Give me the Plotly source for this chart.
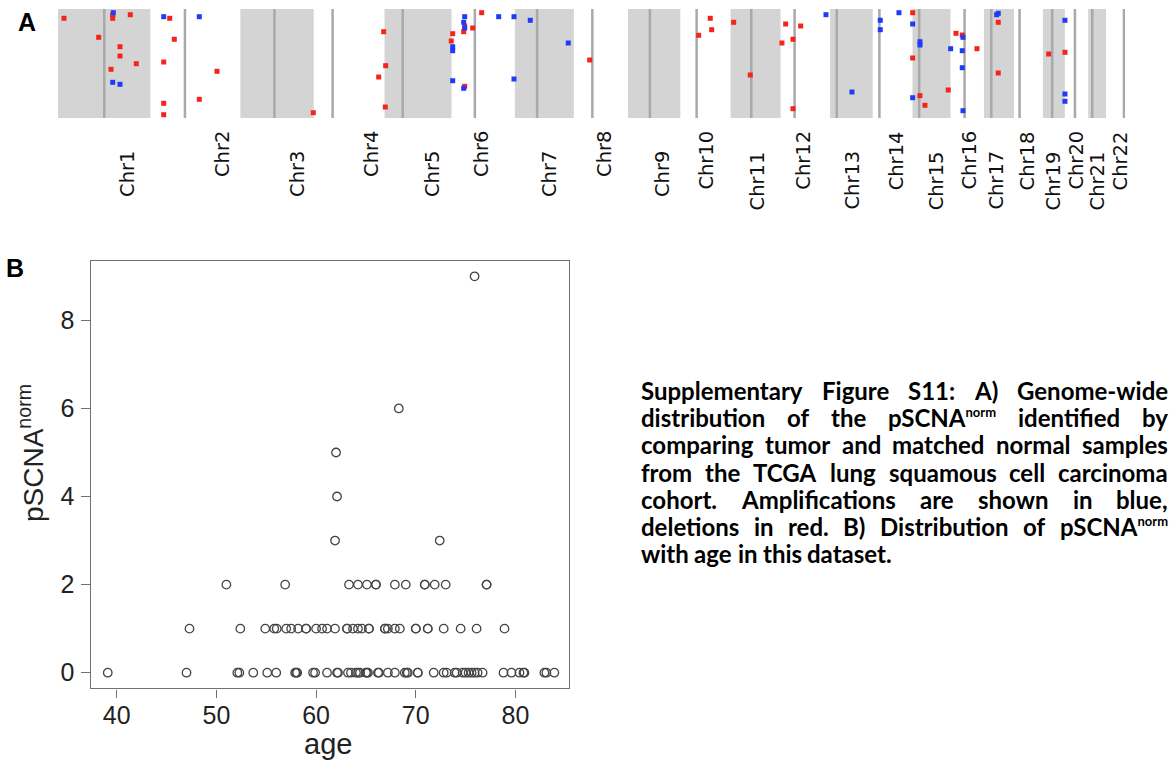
import plotly.graph_objects as go

W, H = 1172, 763

# ---------------- Panel A data ----------------
chrom_names = [f"Chr{i}" for i in range(1, 23)]
chrom_len_mb = [249.25, 243.20, 198.02, 191.15, 180.92, 171.12, 159.14, 146.36,
                141.21, 135.53, 135.01, 133.85, 115.17, 107.35, 102.53, 90.35,
                81.20, 78.08, 59.13, 63.03, 48.13, 51.30]
centromere_mb = [125.0, 93.5, 92.0, 51.0, 49.0, 63.0, 60.0, 50.0, 59.0, 44.0,
                 56.0, 38.0, 18.0, 18.0, 18.0, 38.0, 20.0, 15.0, 25.0, 27.3,
                 11.0, 48.5]

# deletions (red): genome-wide position (Mb) and sample row (0 = top)
del_pos_mb = [16.2, 147.7, 147.7, 195.2, 109.9, 167.4, 167.4, 211.4, 143.1, 301.6,
              314.0, 285.4, 285.4, 285.4, 429.3, 381.5, 689.3, 879.4, 884.8, 865.9,
              883.7, 1098.1, 1095.4, 1119.7, 1144.0, 1065.7, 1061.9, 1098.1, 1435.6, 1761.2,
              1765.0, 1729.9, 1824.4, 1964.8, 2005.3, 1954.8, 1984.5, 1869.2, 1984.5, 2307.7,
              2307.7, 2327.4, 2340.9, 2403.8, 2424.6, 2441.6, 2481.3, 2538.8, 2538.8, 2674.9,
              2718.9]
del_row = [9.3, 6, 9.3, 5.7, 28.3, 37.7, 47, 54.7, 60.3, 9.3,
           30.3, 53, 94.3, 105.7, 62.3, 90.3, 103.7, 22.7, 56.7, 68,
           98, 17, 22.7, 19, 3.7, 24.7, 32, 77.3, 51, 9.3,
           20.7, 26.3, 13.3, 15, 17, 34, 30.3, 66, 99.7, 3.7,
           49, 86.7, 96.3, 81, 24.3, 26, 39.7, 13.3, 64, 45,
           43.3]

# amplifications (blue)
amp_pos_mb = [149.3, 147.7, 167.4, 285.4, 381.5, 1098.1, 1095.4, 1098.1, 1065.7, 1065.7,
              1065.7, 1095.4, 1189.9, 1231.2, 1275.2, 1377.8, 1231.2, 2073.6, 2220.2, 2220.2,
              2143.8, 2270.7, 2307.7, 2327.4, 2327.4, 2307.7, 2410.3, 2443.5, 2441.6, 2441.6,
              2443.5, 2538.8, 2534.5, 2718.9, 2718.9, 2718.9]
amp_row = [3.7, 73.3, 75.3, 7.7, 7.7, 7.7, 13.3, 19, 37.7, 41.7,
           71.7, 79.3, 7.7, 7.7, 11.3, 34, 70, 5.7, 11.3, 20.7,
           83, 3.7, 15, 32.7, 36, 88.7, 39.7, 28.3, 41.7, 58.7,
           101.7, 4.3, 5.7, 11.3, 85, 92.3]

# chromosome label positions (genome Mb)
label_x_mb = [186, 443, 645, 845, 1010, 1142, 1326, 1474, 1631, 1750, 1890,
              2012, 2144, 2265, 2373, 2460, 2533, 2619, 2689, 2749, 2808, 2870]

# ---------------- Panel B data ----------------
age_p0 = [39.1, 47.0, 52.1, 52.3, 53.7, 55.1, 56.0, 57.9, 58.0, 58.1, 59.7, 59.9,
          61.1, 62.1, 62.2, 63.2, 63.5, 64.0, 64.2, 64.4, 65.0, 65.1, 65.2, 66.2,
          66.3, 67.2, 67.9, 68.9, 69.1, 69.2, 70.2, 70.2, 71.8, 72.8, 73.1, 73.9,
          74.1, 74.7, 75.0, 75.3, 75.6, 75.9, 76.2, 76.7, 78.8, 79.6, 80.4, 80.8,
          80.9, 82.9, 83.1, 83.9]
age_p1 = [47.3, 52.4, 54.9, 55.8, 56.05, 57.0, 57.5, 58.2, 59.0, 59.0, 60.0, 60.6,
          61.1, 61.9, 63.1, 63.1, 63.7, 64.2, 64.6, 65.3, 65.3, 66.9, 66.9, 67.2,
          67.9, 68.4, 70.0, 70.0, 71.2, 71.2, 72.8, 74.5, 76.1, 78.9]
age_p2 = [51.0, 56.9, 63.3, 64.2, 65.1, 66.0, 66.0, 67.9, 69.0, 70.9, 70.9, 71.9,
          73.0, 77.1, 77.1]
age_p3 = [61.9, 72.4]
age_p4 = [62.1]
age_p5 = [62.0]
age_p6 = [68.3]
age_p9 = [75.9]
ages = age_p0 + age_p1 + age_p2 + age_p3 + age_p4 + age_p5 + age_p6 + age_p9
pscna = ([0] * len(age_p0) + [1] * len(age_p1) + [2] * len(age_p2) + [3] * len(age_p3)
         + [4] * len(age_p4) + [5] * len(age_p5) + [6] * len(age_p6) + [9] * len(age_p9))

x_ticks_b = [40, 50, 60, 70, 80]
y_ticks_b = [0, 2, 4, 6, 8]

SUP = "<sup><span style='font-size:13px'>norm</span></sup>"
para_lines = [
    ["Supplementary", "Figure", "S11:", "A)", "Genome-wide"],
    ["distribution", "of", "the", "pSCNA" + SUP, "identified", "by"],
    ["comparing", "tumor", "and", "matched", "normal", "samples"],
    ["from", "the", "TCGA", "lung", "squamous", "cell", "carcinoma"],
    ["cohort.", "Amplifications", "are", "shown", "in", "blue,"],
    ["deletions", "in", "red.", "B)", "Distribution", "of", "pSCNA" + SUP],
    ["with", "age", "in", "this", "dataset."],
]

# ---------------- build figure ----------------
starts = []
acc = 0.0
for L in chrom_len_mb:
    starts.append(acc)
    acc += L
genome_total = acc

def px_x(p):
    return p / W

def px_y(p):
    return 1 - p / H

ROWS = 109.0
shapes = []
for i, (s, L, c) in enumerate(zip(starts, chrom_len_mb, centromere_mb)):
    if i % 2 == 0:
        shapes.append(dict(type="rect", xref="x", yref="y", x0=s, x1=s + L, y0=0, y1=ROWS,
                           fillcolor="#D4D4D4", line=dict(width=0), layer="below"))
for i, (s, L, c) in enumerate(zip(starts, chrom_len_mb, centromere_mb)):
    shapes.append(dict(type="line", xref="x", yref="y", x0=s + c, x1=s + c, y0=0, y1=ROWS,
                       line=dict(color="#A9A9A9", width=2.5), layer="below"))

fig = go.Figure()
fig.add_trace(go.Scatter(x=del_pos_mb, y=del_row, mode="markers", xaxis="x", yaxis="y",
                         marker=dict(symbol="square", size=5, color="#F5241A", line=dict(width=0)),
                         cliponaxis=False, hoverinfo="skip"))
fig.add_trace(go.Scatter(x=amp_pos_mb, y=amp_row, mode="markers", xaxis="x", yaxis="y",
                         marker=dict(symbol="square", size=5, color="#1E3CF5", line=dict(width=0)),
                         cliponaxis=False, hoverinfo="skip"))
fig.add_trace(go.Scatter(x=ages, y=pscna, mode="markers", xaxis="x2", yaxis="y2",
                         marker=dict(symbol="circle-open", size=8.5, color="#444",
                                     line=dict(width=1.3, color="#444")),
                         cliponaxis=False, hoverinfo="skip"))

annotations = []
# chromosome labels
for i, (name, lx) in enumerate(zip(chrom_names, label_x_mb)):
    top = 150 if i % 2 == 0 else 130
    annotations.append(dict(text=name, x=lx, xref="x", y=px_y(top), yref="paper",
                            textangle=-90, xanchor="center", yanchor="top", showarrow=False,
                            borderpad=0, font=dict(family="DejaVu Sans", size=19.5, color="#111")))
# panel letters
annotations.append(dict(text="<b>A</b>", x=px_x(27), y=px_y(22), xref="paper", yref="paper",
                        xanchor="center", yanchor="middle", showarrow=False,
                        font=dict(family="Liberation Sans", size=25, color="#000")))
annotations.append(dict(text="<b>B</b>", x=px_x(15), y=px_y(268), xref="paper", yref="paper",
                        xanchor="center", yanchor="middle", showarrow=False,
                        font=dict(family="Liberation Sans", size=25, color="#000")))
# axis titles panel B
annotations.append(dict(text="age", x=px_x(328), y=px_y(744), xref="paper", yref="paper",
                        xanchor="center", yanchor="middle", showarrow=False,
                        font=dict(family="Liberation Sans", size=29, color="#222")))
annotations.append(dict(text="pSCNA<sup>norm</sup>", x=px_x(31), y=px_y(453), xref="paper",
                        yref="paper", textangle=-90, xanchor="center", yanchor="middle",
                        showarrow=False,
                        font=dict(family="Liberation Sans", size=28, color="#222")))

# caption paragraph (word by word, justified in JS)
PARA_LEFT, PARA_RIGHT = 641, 1168
PARA_FS = 24
for li, words in enumerate(para_lines):
    just = 1 if li < len(para_lines) - 1 else 0
    xcur = PARA_LEFT
    for wi, w in enumerate(words):
        plain = w.split("<")[0]
        annotations.append(dict(text="<b>" + w + "</b>", x=px_x(xcur), xref="paper",
                                y=px_y(392 + 27.2 * li + 13), yref="paper",
                                xanchor="left", yanchor="bottom", showarrow=False,
                                borderpad=0, borderwidth=0,
                                name=f"para|{li}|{wi}|{just}",
                                font=dict(family="Lato", size=PARA_FS, color="#000")))
        xcur += (len(plain) + (2 if "<sup>" in w else 0)) * 0.5 * PARA_FS + 6

axis_font = dict(family="Liberation Sans", size=25, color="#222")
fig.update_layout(
    width=W, height=H, margin=dict(l=0, r=0, t=0, b=0),
    paper_bgcolor="white", plot_bgcolor="white", showlegend=False,
    xaxis=dict(domain=[px_x(58), px_x(1125)], range=[0, genome_total], visible=False,
               anchor="y", fixedrange=True),
    yaxis=dict(domain=[px_y(118), px_y(9)], range=[ROWS, 0], visible=False,
               anchor="x", fixedrange=True),
    xaxis2=dict(domain=[px_x(90.7), px_x(569.3)], range=[37.39, 85.40], anchor="y2",
                showline=True, mirror=True, linecolor="#707070", linewidth=1.4,
                ticks="outside", ticklen=8, tickwidth=1.4, tickcolor="#707070",
                tickvals=x_ticks_b, tickfont=axis_font, showgrid=False, zeroline=False,
                ticklabelstandoff=-4),
    yaxis2=dict(domain=[px_y(688.3), px_y(260.7)], range=[-0.355, 9.355], anchor="x2",
                showline=True, mirror=True, linecolor="#707070", linewidth=1.4,
                ticks="outside", ticklen=9, tickwidth=1.4, tickcolor="#707070",
                tickvals=y_ticks_b, tickfont=axis_font, showgrid=False, zeroline=False,
                ticklabelstandoff=1),
    shapes=shapes,
    annotations=annotations,
)

js = """
var gd = document.getElementById('{plot_id}');
function justifyPara(){
  var W = gd._fullLayout.width;
  var groups = {};
  var nodes = gd.querySelectorAll('g.annotation');
  for (var k = 0; k < nodes.length; k++) {
    var n = nodes[k];
    var idx = parseInt(n.getAttribute('data-index'));
    var ann = gd.layout.annotations[idx];
    if (!ann || !ann.name || ann.name.indexOf('para|') !== 0) continue;
    var parts = ann.name.split('|');
    var t = n.querySelector('text.annotation-text');
    var w = t ? t.getBBox().width : 0;
    if (!groups[parts[1]]) groups[parts[1]] = {just: parts[3] === '1', items: []};
    groups[parts[1]].items.push({idx: idx, wi: parseInt(parts[2]), w: w});
  }
  var upd = {};
  var left = LEFTPX, right = RIGHTPX, space = SPACEPX;
  for (var key in groups) {
    var g = groups[key];
    g.items.sort(function(a, b){ return a.wi - b.wi; });
    var tot = 0;
    g.items.forEach(function(it){ tot += it.w; });
    var m = g.items.length;
    var gap = (g.just && m > 1) ? (right - left - tot) / (m - 1) : space;
    var x = left;
    g.items.forEach(function(it){ upd['annotations[' + it.idx + '].x'] = x / W; x += it.w + gap; });
  }
  return Plotly.relayout(gd, upd);
}
var ready = (document.fonts && document.fonts.ready) ? document.fonts.ready : Promise.resolve();
return ready.then(justifyPara);
""".replace("LEFTPX", str(PARA_LEFT)).replace("RIGHTPX", str(PARA_RIGHT)).replace("SPACEPX", str(0.23 * PARA_FS))

fig.write_html("out.html", post_script=js, config={"displayModeBar": False})
